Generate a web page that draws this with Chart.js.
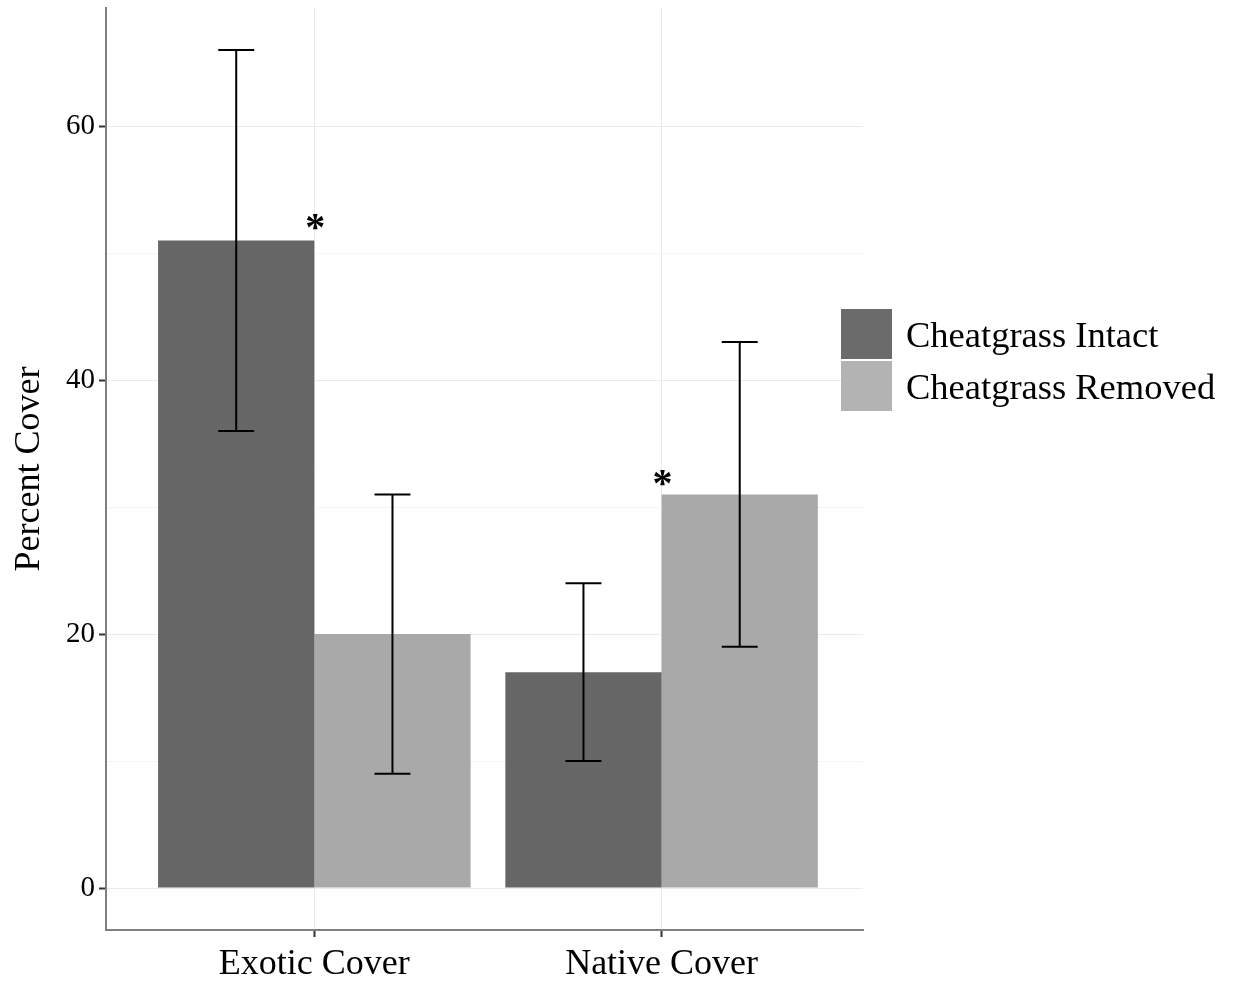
<!DOCTYPE html>
<html>
<head>
<meta charset="utf-8">
<title>Percent Cover</title>
<script src="https://cdn.jsdelivr.net/npm/chart.js@4/dist/chart.umd.min.js"></script>
<style>
  body { margin: 0; background: #fff; }
  #wrap { position: relative; width: 1233px; height: 983px; }
  #legend { position: absolute; left: 841px; top: 308px; font-family: "Liberation Serif", serif; font-size: 36.5px; color: #000; }
  .item { display: flex; align-items: center; height: 52px; }
  .box { width: 51px; height: 50px; margin-right: 14px; }
</style>
</head>
<body>
<div id="wrap">
  <canvas id="myChart"></canvas>
  <div id="legend"></div>
</div>
<script>
// Dados
const categories = ["Exotic Cover", "Native Cover"];
const seriesNames = ["Cheatgrass Intact", "Cheatgrass Removed"];
const intactMean = [51, 17];
const intactLow = [36, 10];
const intactHigh = [66, 24];
const removedMean = [20, 31];
const removedLow = [9, 19];
const removedHigh = [31, 43];
const yTicks = [0, 20, 40, 60];
// asterisco de significância: [posição x, valor y]
const sigMarks = [[1, 52.4], [2, 32.2]];

const colors = ["#666666", "#a9a9a9"];
const legendColors = ["#6b6b6b", "#b3b3b3"];

function points(values) {
  return values.map((v, i) => ({ x: i + 1, y: v }));
}

const data = {
  datasets: [
    {
      label: seriesNames[0],
      data: points(intactMean),
      low: intactLow,
      high: intactHigh,
      backgroundColor: colors[0],
      categoryPercentage: 0.9,
      barPercentage: 1,
    },
    {
      label: seriesNames[1],
      data: points(removedMean),
      low: removedLow,
      high: removedHigh,
      backgroundColor: colors[1],
      categoryPercentage: 0.9,
      barPercentage: 1,
    },
  ],
};

// Barras de erro
const errorBars = {
  id: "errorBars",
  afterDatasetsDraw(chart) {
    const ctx = chart.ctx;
    const y = chart.scales.y;
    ctx.save();
    ctx.strokeStyle = "#000";
    ctx.lineWidth = 2;
    chart.data.datasets.forEach((ds, di) => {
      chart.getDatasetMeta(di).data.forEach((bar, i) => {
        const yl = y.getPixelForValue(ds.low[i]);
        const yh = y.getPixelForValue(ds.high[i]);
        const half = bar.width * 0.115;
        ctx.beginPath();
        ctx.moveTo(bar.x, yl);
        ctx.lineTo(bar.x, yh);
        ctx.moveTo(bar.x - half, yl);
        ctx.lineTo(bar.x + half, yl);
        ctx.moveTo(bar.x - half, yh);
        ctx.lineTo(bar.x + half, yh);
        ctx.stroke();
      });
    });
    ctx.restore();
  },
};

const asterisks = {
  id: "asterisks",
  afterDatasetsDraw(chart) {
    const ctx = chart.ctx;
    ctx.save();
    ctx.fillStyle = "#000";
    ctx.font = "bold 40px 'Liberation Serif'";
    ctx.textAlign = "center";
    ctx.textBaseline = "middle";
    sigMarks.forEach(([sx, sy]) => {
      ctx.fillText("*", chart.scales.x.getPixelForValue(sx) + 1, chart.scales.y.getPixelForValue(sy) + 7);
    });
    ctx.restore();
  },
};

const config = {
  type: "bar",
  data: data,
  plugins: [errorBars, asterisks],
  options: {
    responsive: true,
    maintainAspectRatio: false,
    animation: false,
    layout: { padding: { top: 8, right: 370, left: 0, bottom: 0 } },
    plugins: {
      legend: { display: false },
      tooltip: { enabled: false },
    },
    scales: {
      x: {
        type: "linear",
        min: 0.4,
        max: 2.58,
        offset: false,
        afterBuildTicks: (axis) => {
          axis.ticks = categories.map((c, i) => ({ value: i + 1 }));
        },
        afterFit: (axis) => {
          axis.height = 53;
          axis.paddingLeft = 0;
          axis.paddingRight = 0;
        },
        ticks: {
          color: "#000",
          padding: 6,
          font: { family: "Liberation Serif", size: 36 },
          callback: (value) => categories[value - 1] || "",
        },
        grid: {
          offset: false,
          color: "#ebebeb",
          lineWidth: 1,
          tickLength: 7,
          tickColor: "#333",
          tickWidth: 2,
        },
        border: { color: "#7f7f7f", width: 2 },
      },
      y: {
        min: -3.3,
        max: 69.3,
        afterBuildTicks: (axis) => {
          axis.ticks = [0, 10, 20, 30, 40, 50, 60].map((v) => ({ value: v }));
        },
        afterFit: (axis) => {
          axis.width = 106;
          axis.paddingTop = 0;
          axis.paddingBottom = 0;
        },
        ticks: {
          color: "#000",
          padding: 4,
          font: { family: "Liberation Serif", size: 29 },
          callback: (value) => (yTicks.includes(value) ? String(value) : ""),
        },
        grid: {
          color: (c) => (yTicks.includes(c.tick.value) ? "#ebebeb" : "#f5f5f5"),
          tickColor: (c) => (yTicks.includes(c.tick.value) ? "#333" : "rgba(0,0,0,0)"),
          tickLength: 7,
          tickWidth: 2,
        },
        border: { color: "#7f7f7f", width: 2 },
        title: {
          display: true,
          text: "Percent Cover",
          color: "#000",
          padding: { top: 8, bottom: 4 },
          font: { family: "Liberation Serif", size: 36, weight: "normal" },
        },
      },
    },
  },
};

// Legenda
const legend = document.getElementById("legend");
seriesNames.forEach((name, i) => {
  const item = document.createElement("div");
  item.className = "item";
  item.innerHTML = '<div class="box" style="background:' + legendColors[i] + '"></div><span>' + name + "</span>";
  legend.appendChild(item);
});

window.onload = function () {
  const ctx = document.getElementById("myChart").getContext("2d");
  const myChart = new Chart(ctx, config);
};
</script>
</body>
</html>
